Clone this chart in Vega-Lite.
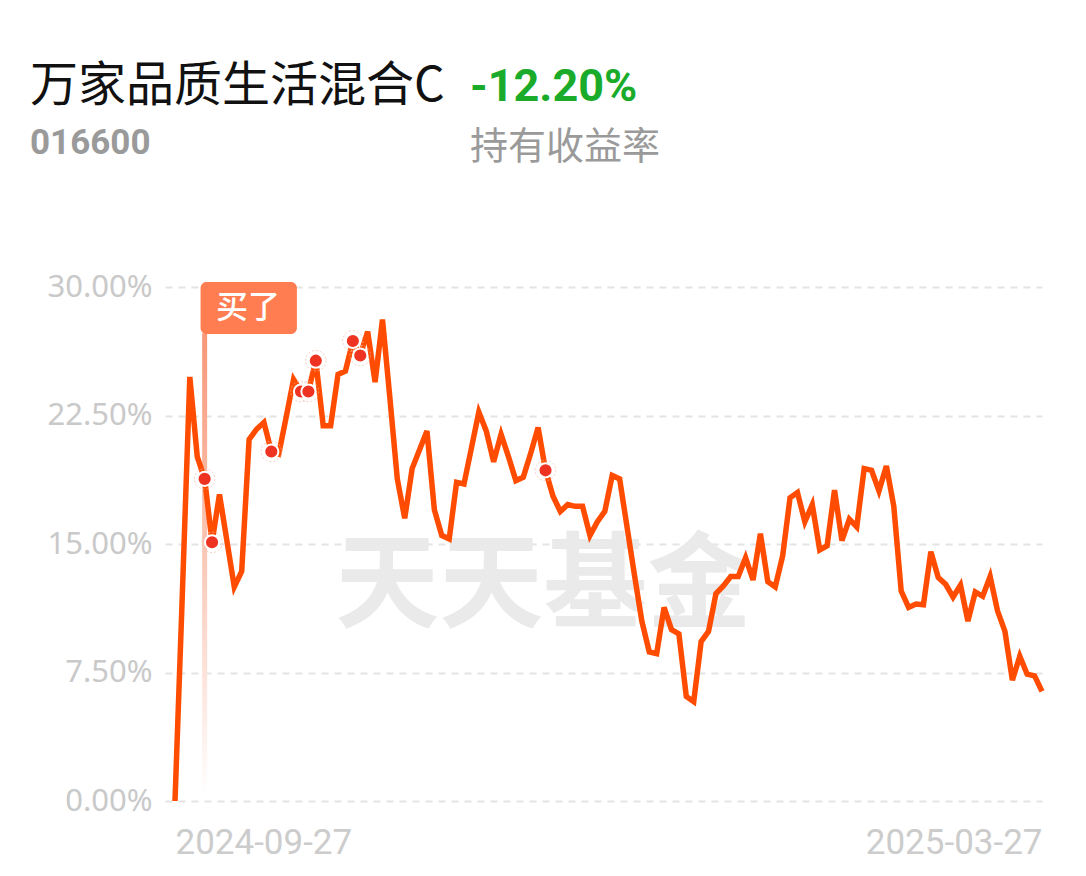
{
  "$schema": "https://vega.github.io/schema/vega-lite/v6.json",
  "background": "white",
  "padding": {"left": 30, "top": 63, "right": 0, "bottom": 10},
  "bounds": "flush",
  "spacing": 118,
  "config": {"view": {"stroke": null}, "font": "Noto Sans"},
  "datasets": {
    "nav": [
      {"i": 0, "v": 0}, {"i": 1, "v": 12.2}, {"i": 2, "v": 24.75}, {"i": 3, "v": 20.1},
      {"i": 4, "v": 18.8, "trade": 1}, {"i": 5, "v": 15.1, "trade": 1}, {"i": 6, "v": 17.9}, {"i": 7, "v": 15.2},
      {"i": 8, "v": 12.5}, {"i": 9, "v": 13.4}, {"i": 10, "v": 21.1}, {"i": 11, "v": 21.7},
      {"i": 12, "v": 22.1}, {"i": 13, "v": 20.4, "trade": 1}, {"i": 14, "v": 20.25}, {"i": 15, "v": 22.4},
      {"i": 16, "v": 24.6}, {"i": 17, "v": 23.9, "trade": 1}, {"i": 18, "v": 23.9, "trade": 1}, {"i": 19, "v": 25.7, "trade": 1},
      {"i": 20, "v": 21.9}, {"i": 21, "v": 21.9}, {"i": 22, "v": 24.9}, {"i": 23, "v": 25.1},
      {"i": 24, "v": 26.85, "trade": 1}, {"i": 25, "v": 26.0, "trade": 1}, {"i": 26, "v": 27.4}, {"i": 27, "v": 24.45},
      {"i": 28, "v": 28.1}, {"i": 29, "v": 23.5}, {"i": 30, "v": 18.8}, {"i": 31, "v": 16.5},
      {"i": 32, "v": 19.4}, {"i": 33, "v": 20.5}, {"i": 34, "v": 21.6}, {"i": 35, "v": 17.0},
      {"i": 36, "v": 15.5}, {"i": 37, "v": 15.3}, {"i": 38, "v": 18.6}, {"i": 39, "v": 18.5},
      {"i": 40, "v": 20.6}, {"i": 41, "v": 22.7}, {"i": 42, "v": 21.6}, {"i": 43, "v": 19.8},
      {"i": 44, "v": 21.4}, {"i": 45, "v": 20.1}, {"i": 46, "v": 18.7}, {"i": 47, "v": 18.9},
      {"i": 48, "v": 20.3}, {"i": 49, "v": 21.8}, {"i": 50, "v": 19.3, "trade": 1}, {"i": 51, "v": 17.8},
      {"i": 52, "v": 16.9}, {"i": 53, "v": 17.3}, {"i": 54, "v": 17.2}, {"i": 55, "v": 17.2},
      {"i": 56, "v": 15.5}, {"i": 57, "v": 16.3}, {"i": 58, "v": 16.9}, {"i": 59, "v": 19.0},
      {"i": 60, "v": 18.8}, {"i": 61, "v": 16.0}, {"i": 62, "v": 13.2}, {"i": 63, "v": 10.5},
      {"i": 64, "v": 8.7}, {"i": 65, "v": 8.6}, {"i": 66, "v": 11.3}, {"i": 67, "v": 10.0},
      {"i": 68, "v": 9.75}, {"i": 69, "v": 6.1}, {"i": 70, "v": 5.8}, {"i": 71, "v": 9.3},
      {"i": 72, "v": 9.9}, {"i": 73, "v": 12.1}, {"i": 74, "v": 12.55}, {"i": 75, "v": 13.1},
      {"i": 76, "v": 13.1}, {"i": 77, "v": 14.2}, {"i": 78, "v": 12.9}, {"i": 79, "v": 15.6},
      {"i": 80, "v": 12.8}, {"i": 81, "v": 12.5}, {"i": 82, "v": 14.3}, {"i": 83, "v": 17.7},
      {"i": 84, "v": 18.0}, {"i": 85, "v": 16.3}, {"i": 86, "v": 17.3}, {"i": 87, "v": 14.65},
      {"i": 88, "v": 14.9}, {"i": 89, "v": 18.15}, {"i": 90, "v": 15.2}, {"i": 91, "v": 16.45},
      {"i": 92, "v": 16.0}, {"i": 93, "v": 19.4}, {"i": 94, "v": 19.3}, {"i": 95, "v": 18.1},
      {"i": 96, "v": 19.55}, {"i": 97, "v": 17.2}, {"i": 98, "v": 12.25}, {"i": 99, "v": 11.3},
      {"i": 100, "v": 11.5}, {"i": 101, "v": 11.45}, {"i": 102, "v": 14.55}, {"i": 103, "v": 13.05},
      {"i": 104, "v": 12.65}, {"i": 105, "v": 11.9}, {"i": 106, "v": 12.6}, {"i": 107, "v": 10.5},
      {"i": 108, "v": 12.2}, {"i": 109, "v": 11.95}, {"i": 110, "v": 13.1}, {"i": 111, "v": 11.1},
      {"i": 112, "v": 9.9}, {"i": 113, "v": 7.05}, {"i": 114, "v": 8.45}, {"i": 115, "v": 7.4},
      {"i": 116, "v": 7.3}, {"i": 117, "v": 6.4}
    ],
    "buy": [{"i": 4, "v": 18.8, "label": "买了"}],
    "wm": [{"i": 49.7, "v": 12.4, "t": "天天基金"}]
  },
  "vconcat": [
    {
      "bounds": "flush",
      "spacing": 205,
      "hconcat": [
        {
          "width": 100, "height": 1,
          "data": {"values": []},
          "mark": "point",
          "title": {
            "text": "万家品质生活混合C", "subtitle": "016600", "anchor": "start", "dx": -135, "offset": 8,
            "font": "Noto Sans CJK SC", "fontSize": 48, "fontWeight": "normal", "color": "#111111",
            "subtitleFont": "Roboto", "subtitleFontSize": 35, "subtitleFontWeight": "bold",
            "subtitleColor": "#9a9a9a", "subtitlePadding": 15
          }
        },
        {
          "width": 100, "height": 1,
          "data": {"values": []},
          "mark": "point",
          "title": {
            "text": "-12.20%", "subtitle": "持有收益率", "anchor": "start", "offset": 2,
            "font": "Roboto", "fontSize": 45, "fontWeight": "bold", "color": "#1aab2b",
            "subtitleFont": "Noto Sans CJK SC", "subtitleFontSize": 38, "subtitleFontWeight": "normal",
            "subtitleColor": "#9a9a9a", "subtitlePadding": 19
          }
        }
      ]
    },
    {
      "width": 877,
      "height": 514,
      "encoding": {
        "x": {
          "field": "i", "type": "quantitative",
          "scale": {"domain": [-1.35, 117], "nice": false, "zero": false, "padding": 0},
          "axis": {
            "values": [0, 117],
            "labelExpr": "datum.value == 0 ? '2024-09-27' : '2025-03-27'",
            "labelAlign": {"condition": {"test": "datum.value == 0", "value": "left"}, "value": "right"},
            "labelLimit": 0,
            "grid": false, "domain": false, "ticks": false,
            "labelFont": "Roboto", "labelFontSize": 35, "labelColor": "#cccccc",
            "labelPadding": 24, "title": null
          }
        },
        "y": {
          "field": "v", "type": "quantitative",
          "scale": {"domain": [0, 30], "nice": false},
          "axis": {
            "values": [0, 7.5, 15, 22.5, 30],
            "labelExpr": "format(datum.value, '.2f') + '%'",
            "grid": true, "gridDash": [7, 6], "gridColor": "#e4e4e4", "gridWidth": 2,
            "domain": false, "ticks": false,
            "labelFont": "Noto Sans", "labelFontSize": 31, "labelColor": "#c9c9c9",
            "labelPadding": 13, "title": null
          }
        }
      },
      "layer": [
        {
          "data": {"name": "wm"},
          "mark": {"type": "text", "font": "Noto Sans CJK SC", "fontWeight": "bold", "fontSize": 104, "color": "#eaeaea", "align": "center", "baseline": "middle"},
          "encoding": {"text": {"field": "t"}}
        },
        {
          "data": {"name": "buy"},
          "mark": {"type": "bar", "orient": "vertical", "width": 5, "fill": {"gradient": "linear", "x1": 0, "y1": 0, "x2": 0, "y2": 1, "stops": [{"offset": 0, "color": "#f79778"}, {"offset": 0.55, "color": "#fbcfc0"}, {"offset": 1, "color": "#ffffff"}]}},
          "encoding": {"y": {"datum": 27.3}, "y2": {"datum": 0.4}}
        },
        {
          "data": {"name": "nav"},
          "mark": {"type": "line", "color": "#ff4c00", "strokeWidth": 5.5}
        },
        {
          "data": {"name": "nav"},
          "transform": [{"filter": "datum.trade == 1"}],
          "mark": {"type": "point", "filled": false, "size": 420, "stroke": "#f7b9ab", "strokeWidth": 1, "strokeDash": [2, 2]}
        },
        {
          "data": {"name": "nav"},
          "transform": [{"filter": "datum.trade == 1"}],
          "mark": {"type": "point", "filled": true, "size": 200, "fill": "#ee3322", "stroke": "#ffffff", "strokeWidth": 2, "opacity": 1}
        },
        {
          "data": {"name": "buy"},
          "mark": {"type": "rect", "color": "#ff7d50", "cornerRadius": 6},
          "encoding": {"x": {"datum": 3.45}, "x2": {"datum": 16.45}, "y": {"datum": 27.26}, "y2": {"datum": 30.29}}
        },
        {
          "data": {"name": "buy"},
          "mark": {"type": "text", "font": "Noto Sans CJK SC", "fontSize": 32, "fontWeight": 500, "color": "#ffffff", "align": "center", "baseline": "middle"},
          "encoding": {"x": {"datum": 9.85}, "y": {"datum": 28.77}, "text": {"field": "label"}}
        }
      ]
    }
  ]
}
